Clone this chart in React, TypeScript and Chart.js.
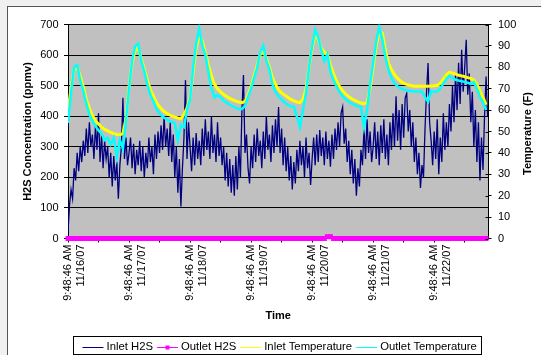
import React, { useEffect, useRef } from 'react';
import { Chart, registerables } from 'chart.js';

Chart.register(...registerables);

// ---------------- data ----------------
const SERIES_NAMES = ['Inlet H2S', 'Outlet H2S', 'Inlet Temperature', 'Outlet Temperature'];
const X_TITLE = 'Time';
const Y_TITLE = 'H2S Concentration (ppmv)';
const Y1_TITLE = 'Temperature (F)';

// time axis: days since 11/16/07 9:48:46 AM
const X_MIN_DAY = 0;
const X_MAX_DAY = 6.89;
const TICK_DAYS = [0, 0.5, 1, 1.5, 2, 2.5, 3, 3.5, 4, 4.5, 5, 5.5, 6, 6.5];
const TICK_TIME = '9:48:46 AM';
const TICK_DATES = ['11/16/07', '', '11/17/07', '', '11/18/07', '', '11/19/07', '', '11/20/07', '', '11/21/07', '', '11/22/07', ''];

const H2S_STEP_DAYS = 0.025; // logger sample interval for H2S series
const TEMP_STEP_DAYS = 0.05; // sample interval for temperatures / outlet H2S

const INLET_H2S = [
  // 11/16
  20, 110, 160, 130, 230, 190, 280, 220, 300, 250, 320, 270, 360, 280, 380, 300, 340, 260, 370, 290,
  410, 250, 340, 230, 320, 260, 300, 200, 280, 170, 270, 190, 250, 130, 240, 300, 460, 260, 330, 240,
  // 11/17
  280, 330, 230, 310, 210, 290, 240, 320, 220, 300, 200, 280, 230, 330, 250, 300, 210, 340, 260, 350,
  280, 370, 290, 400, 300, 360, 270, 380, 250, 340, 200, 300, 150, 260, 105, 230, 330, 518, 260, 380,
  // 11/18
  300, 220, 330, 240, 345, 260, 320, 240, 360, 270, 390, 290, 350, 260, 400, 280, 340, 250, 380, 270,
  330, 240, 300, 190, 280, 170, 260, 150, 240, 140, 270, 160, 300, 200, 420, 535, 280, 340, 230, 180,
  // 11/19
  300, 230, 340, 250, 360, 270, 320, 230, 350, 260, 400, 290, 340, 250, 370, 280, 390, 300, 430, 280,
  360, 240, 330, 220, 300, 190, 270, 160, 250, 180, 290, 220, 320, 240, 300, 200, 330, 230, 280, 175,
  // 11/20
  260, 330, 240, 340, 250, 355, 270, 330, 240, 350, 260, 320, 235, 340, 260, 360, 290, 380, 300, 410,
  430, 310, 360, 250, 320, 210, 290, 180, 260, 140, 230, 170, 290, 240, 360, 260, 390, 280, 350, 250,
  // 11/21
  300, 380, 260, 350, 240, 370, 280, 390, 260, 340, 240, 380, 290, 410, 300, 465, 320, 420, 290, 440,
  330, 460, 475, 350, 420, 300, 380, 250, 330, 210, 280, 165, 240, 200, 360, 480, 574, 380, 320, 240,
  // 11/22
  350, 260, 390, 210, 330, 250, 410, 290, 380, 300, 440, 350, 500, 380, 540, 420, 575, 440, 617, 480,
  560, 650, 470, 540, 380, 480, 300, 420, 250, 380, 190, 330, 224, 400, 530, 400,
];

const OUTLET_H2S = [
  0, 0, 0, 0, 0, 0, 0, 0, 0, 0, 0, 0, 0, 0, 0, 0, 0, 0, 0, 0,
  0, 0, 0, 0, 0, 0, 0, 0, 0, 0, 0, 0, 0, 0, 0, 0, 0, 0, 0, 0,
  0, 0, 0, 0, 0, 0, 0, 0, 0, 0, 0, 0, 0, 0, 0, 0, 0, 0, 0, 0,
  0, 0, 0, 0, 0, 0, 0, 0, 0, 0, 0, 0, 0, 0, 0, 0, 0, 0, 0, 0,
  0, 0, 0, 0, 0, 6, 6, 0, 0, 0, 0, 0, 0, 0, 0, 0, 0, 0, 0, 0,
  0, 0, 0, 0, 0, 0, 0, 0, 0, 0, 0, 0, 0, 0, 0, 0, 0, 0, 0, 0,
  0, 0, 0, 0, 0, 0, 0, 0, 0, 0, 0, 0, 0, 0, 0, 0, 0, 0,
];

const INLET_TEMP = [
  60, 70, 79, 80, 76, 71, 65, 61, 57.5, 55, 53.5, 52, 51, 50.3, 49.6, 49, 48.6, 48.5, 49, 56,
  71, 82, 88, 89, 84, 79, 74, 69.5, 66.5, 63.5, 61.5, 60, 58.8, 58, 57.3, 56.7, 56.3, 56, 58, 61,
  66, 78, 89, 95, 92, 87, 81, 76, 72, 70, 68.5, 67.3, 66.3, 65.5, 64.8, 64.2, 63.8, 63.5, 64, 67,
  71, 76, 81, 86, 87.5, 84, 80, 75, 72, 69.5, 68, 67, 66, 65, 64.3, 63.8, 63.5, 65, 70, 80,
  89, 96, 93, 89, 87, 86, 81, 77, 73.5, 71, 69, 67.5, 66.3, 65.3, 64.5, 63.8, 63.3, 63, 63.5, 70,
  80, 90, 97, 96, 88, 82, 79, 76.5, 74.8, 73.5, 72.5, 72, 71.6, 71.3, 71.2, 71.2, 71.2, 71.2, 71.2, 71.3,
  71.4, 71.6, 72.5, 74.5, 76.5, 77.7, 77.3, 76.8, 76.3, 76, 75.6, 75.2, 74.8, 74, 72, 69, 66, 62.5,
];

const OUTLET_TEMP = [
  54, 68, 80, 81, 74, 69, 63, 58, 55, 52.5, 50.5, 49, 46, 47, 44, 47, 38, 46, 42, 55,
  70, 83, 90, 91, 83, 78, 72, 67, 64, 60.5, 58.5, 57, 56, 55, 54.5, 54, 46, 53, 52, 60,
  65, 80, 91, 98, 90, 86, 78, 70, 66, 67, 66, 64.5, 63.5, 62.5, 61.8, 61, 60.5, 60.5, 62, 66,
  70, 75, 80, 87, 90, 83, 79, 72, 68.5, 66.5, 65, 63.5, 62.5, 61.8, 61.5, 57, 52, 60, 68, 80,
  90, 97.5, 94, 88, 83, 86, 78, 74, 71, 68.5, 66.5, 65, 64, 63, 62.3, 61.8, 61.5, 52, 60, 72,
  82, 92, 99, 93, 85, 79, 75, 72.5, 71, 70.3, 69.6, 69.2, 69, 68.8, 68.7, 68.7, 68.6, 66, 64, 69,
  68.5, 68.8, 70, 72.5, 74.5, 76, 75, 74.2, 73.8, 73.5, 73.2, 72.8, 72.2, 73, 70, 66, 63.5, 60,
];

// ---------------- styles ----------------
const NAVY = '#000080';
const MAGENTA = '#FF00FF';
const YELLOW = '#FFFF00';
const CYAN = '#00FFFF';
const PLOT_BG = '#C0C0C0';
const FONT_FAMILY = '"Liberation Sans", Arial, sans-serif';

const toPoints = (vals: number[], step: number) => vals.map((v, i) => ({ x: i * step, y: v }));

const plotPlugin = {
  id: 'excelLook',
  beforeDraw(chart: any) {
    const { ctx, chartArea: a } = chart;
    ctx.save();
    ctx.fillStyle = PLOT_BG;
    ctx.fillRect(a.left, a.top, a.right - a.left, a.bottom - a.top);
    ctx.restore();
  },
  afterDraw(chart: any) {
    const { ctx, chartArea: a } = chart;
    const s = chart.scales.y1;
    ctx.save();
    // inner half of the crossing tick marks on the secondary axis
    ctx.strokeStyle = '#000';
    ctx.lineWidth = 1;
    s.ticks.forEach((t: any) => {
      const y = Math.round(s.getPixelForValue(t.value)) + 0.5;
      ctx.beginPath();
      ctx.moveTo(a.right - 3, y);
      ctx.lineTo(a.right, y);
      ctx.stroke();
    });
    // secondary axis title (reads bottom to top)
    ctx.save();
    ctx.font = `bold 11px ${FONT_FAMILY}`;
    ctx.fillStyle = '#000';
    ctx.textAlign = 'center';
    ctx.textBaseline = 'middle';
    ctx.translate(528, (a.top + a.bottom) / 2 + 2);
    ctx.rotate(-Math.PI / 2);
    ctx.fillText(Y1_TITLE, 0, 0);
    ctx.restore();

    // boxed legend
    const items = [
      { label: SERIES_NAMES[0], color: NAVY, marker: false },
      { label: SERIES_NAMES[1], color: MAGENTA, marker: true },
      { label: SERIES_NAMES[2], color: YELLOW, marker: false },
      { label: SERIES_NAMES[3], color: CYAN, marker: false },
    ];
    ctx.font = `11.3px ${FONT_FAMILY}`;
    const SAMPLE = 21, GAP_TEXT = 3, GAP_ITEM = 4, PAD_L = 9, PAD_R = 4.5;
    const widths = items.map((it) => ctx.measureText(it.label).width);
    let total = PAD_L + PAD_R + GAP_ITEM * (items.length - 1);
    widths.forEach((w) => (total += SAMPLE + GAP_TEXT + w));
    const left = Math.round(277 - total / 2) + 0.5;
    const top = 336.5, bottom = 354.5;
    const cy = 346.5;
    ctx.strokeStyle = '#000';
    ctx.lineWidth = 1;
    ctx.strokeRect(left, top, Math.round(total), bottom - top);
    let x = left + PAD_L;
    ctx.textBaseline = 'middle';
    ctx.textAlign = 'left';
    items.forEach((it, i) => {
      ctx.strokeStyle = it.color;
      ctx.lineWidth = 1;
      ctx.beginPath();
      ctx.moveTo(x, Math.round(cy) + 0.5);
      ctx.lineTo(x + SAMPLE, Math.round(cy) + 0.5);
      ctx.stroke();
      if (it.marker) {
        ctx.fillStyle = it.color;
        ctx.fillRect(x + SAMPLE / 2 - 2, Math.round(cy) - 1.5, 4, 4);
      }
      x += SAMPLE + GAP_TEXT;
      ctx.fillStyle = '#000';
      ctx.fillText(it.label, x, cy);
      x += widths[i] + GAP_ITEM;
    });
    ctx.restore();
  },
};

export default function App() {
  const ref = useRef<HTMLCanvasElement>(null);

  useEffect(() => {
    if (!ref.current) return;
    const tickFont = { family: FONT_FAMILY, size: 11 };
    const titleFont = { family: FONT_FAMILY, size: 11, weight: 'bold' as const };
    const chart = new Chart(ref.current, {
      type: 'line',
      data: {
        datasets: [
          {
            label: SERIES_NAMES[3],
            data: toPoints(OUTLET_TEMP, TEMP_STEP_DAYS),
            yAxisID: 'y1',
            borderColor: CYAN,
            borderWidth: 2.5,
            pointRadius: 0,
            tension: 0,
            order: 0,
          },
          {
            label: SERIES_NAMES[2],
            data: toPoints(INLET_TEMP, TEMP_STEP_DAYS),
            yAxisID: 'y1',
            borderColor: YELLOW,
            borderWidth: 3,
            pointRadius: 0,
            tension: 0,
            order: 1,
          },
          {
            label: SERIES_NAMES[1],
            data: toPoints(OUTLET_H2S, TEMP_STEP_DAYS),
            yAxisID: 'y',
            borderColor: MAGENTA,
            backgroundColor: MAGENTA,
            borderWidth: 2,
            pointStyle: 'rect',
            pointRadius: 3.5,
            pointBorderWidth: 0,
            tension: 0,
            clip: false as any,
            order: 2,
          },
          {
            label: SERIES_NAMES[0],
            data: toPoints(INLET_H2S, H2S_STEP_DAYS),
            yAxisID: 'y',
            borderColor: NAVY,
            borderWidth: 1.3,
            pointRadius: 0,
            tension: 0,
            order: 3,
          },
        ],
      },
      options: {
        responsive: false,
        animation: false,
        events: [],
        layout: { padding: { top: 24.5, left: 0, right: 0, bottom: 0 } },
        plugins: {
          legend: { display: false },
          tooltip: { enabled: false },
        },
        scales: {
          x: {
            type: 'linear',
            min: X_MIN_DAY,
            max: X_MAX_DAY,
            afterBuildTicks: (scale: any) => {
              scale.ticks = TICK_DAYS.map((v) => ({ value: v }));
            },
            afterFit: (scale: any) => {
              scale.height = 116.5;
            },
            ticks: {
              autoSkip: false,
              minRotation: 90,
              maxRotation: 90,
              padding: 2,
              color: '#000',
              font: tickFont,
              callback: (_v: any, i: number) => (TICK_DATES[i] ? [TICK_TIME, TICK_DATES[i]] : ''),
            },
            grid: { drawOnChartArea: false, drawTicks: true, tickLength: 4, color: '#000' },
            border: { display: true, color: '#000', width: 1 },
            title: {
              display: true,
              text: X_TITLE,
              color: '#000',
              font: titleFont,
              padding: { top: 0, bottom: 32.4 },
            },
          },
          y: {
            type: 'linear',
            position: 'left',
            min: 0,
            max: 700,
            afterFit: (scale: any) => {
              scale.width = 68;
            },
            ticks: { stepSize: 100, padding: 5.5, color: '#000', font: tickFont },
            grid: { color: '#000', lineWidth: 1, drawTicks: true, tickLength: 4 },
            border: { display: true, color: '#000', width: 1 },
            title: {
              display: true,
              text: Y_TITLE,
              color: '#000',
              font: titleFont,
              padding: { top: 21.4, bottom: 0 },
            },
          },
          y1: {
            type: 'linear',
            position: 'right',
            min: 0,
            max: 100,
            afterFit: (scale: any) => {
              scale.width = 52.5;
            },
            ticks: { stepSize: 10, padding: 6.5, color: '#000', font: tickFont },
            grid: { drawOnChartArea: false, drawTicks: true, tickLength: 3, color: '#000' },
            border: { display: true, color: '#000', width: 1 },
          },
        },
      },
      plugins: [plotPlugin],
    } as any);
    return () => chart.destroy();
  }, []);

  return (
    <div
      style={{
        position: 'fixed',
        left: 0,
        top: 0,
        width: 541,
        height: 355,
        background: '#F0F0F0',
        overflow: 'hidden',
      }}
    >
      <div
        style={{
          position: 'absolute',
          left: 7,
          top: 6,
          width: 540,
          height: 355,
          background: '#FFFFFF',
          borderLeft: '1px solid #555',
          borderTop: '1px solid #555',
        }}
      />
      <canvas
        ref={ref}
        width={541}
        height={355}
        style={{ position: 'absolute', left: 0, top: 0, width: 541, height: 355 }}
      />
    </div>
  );
}
